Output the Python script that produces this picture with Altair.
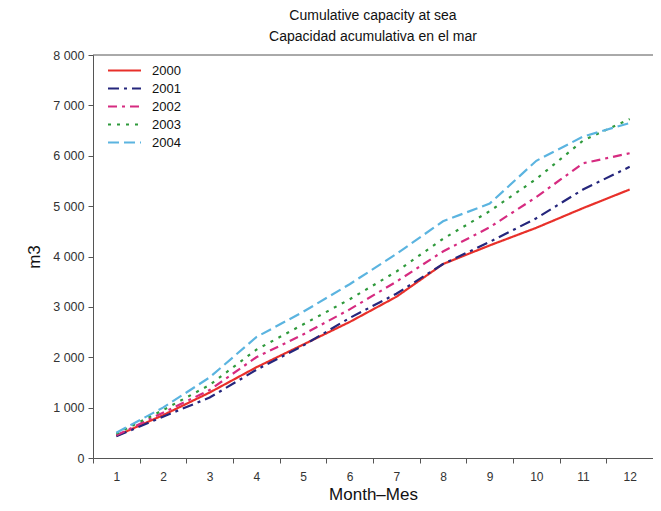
import altair as alt
import pandas as pd

months = list(range(1, 13))
years = ["2000", "2001", "2002", "2003", "2004"]
v2000 = [440, 850, 1300, 1800, 2250, 2700, 3200, 3850, 4220, 4570, 4960, 5330]
v2001 = [430, 820, 1200, 1750, 2230, 2780, 3260, 3850, 4290, 4760, 5330, 5780]
v2002 = [450, 900, 1350, 2000, 2450, 2950, 3500, 4100, 4580, 5180, 5850, 6050]
v2003 = [480, 950, 1450, 2150, 2650, 3150, 3700, 4350, 4900, 5540, 6300, 6730]
v2004 = [500, 1000, 1600, 2400, 2900, 3450, 4050, 4700, 5050, 5900, 6380, 6650]
colors = ["#e8302a", "#25267c", "#d62b80", "#2f9a3c", "#5bb4e0"]
dashes = [[1, 0], [11, 5, 3, 5], [9, 5, 3, 5], [3, 6], [11, 5]]

rows = []
for y, vals in zip(years, [v2000, v2001, v2002, v2003, v2004]):
    for m, v in zip(months, vals):
        rows.append({"Month": m, "Year": y, "Value": v})
df = pd.DataFrame(rows)

xenc = alt.X("Month:O", title="Month\u2013Mes",
             scale=alt.Scale(paddingInner=0, paddingOuter=0),
             axis=alt.Axis(labelAngle=0, tickBand="extent", labelFontSize=12,
                           titleFontSize=17, titleFontWeight="normal",
                           labelColor="#333", titleColor="#111",
                           domainColor="#555", tickColor="#555", tickSize=5,
                           labelPadding=8, titlePadding=4))

lines = alt.Chart(df).mark_line(strokeWidth=2.2).encode(
    x=xenc,
    y=alt.Y("Value:Q", title="m3",
            scale=alt.Scale(domain=[0, 8000], nice=False),
            axis=alt.Axis(values=list(range(0, 8001, 1000)), grid=False,
                          labelExpr="replace(format(datum.value, ','), ',', ' ')",
                          labelFontSize=12.5, titleFontSize=17,
                          titleFontWeight="normal", labelColor="#333",
                          titleColor="#111", domainColor="#555",
                          tickColor="#555", tickSize=5, labelPadding=4,
                          titlePadding=9)),
    color=alt.Color("Year:N", sort=years,
                    scale=alt.Scale(domain=years, range=colors),
                    legend=alt.Legend(title=None, orient="none", legendX=14,
                                      legendY=9, symbolType="M-1,0H5",
                                      symbolSize=121, symbolStrokeWidth=2,
                                      labelFontSize=13, labelOffset=32,
                                      rowPadding=4, labelColor="#111")),
    strokeDash=alt.StrokeDash("Year:N", sort=years,
                              scale=alt.Scale(domain=years, range=dashes),
                              legend=None),
)

top = alt.Chart(pd.DataFrame({"top": [8000]})).mark_rule(
    color="#555", strokeWidth=1).encode(y=alt.Y("top:Q"))

chart = alt.layer(lines, top).properties(
    width=560, height=403,
    title=alt.Title(["Cumulative capacity at sea", "Capacidad acumulativa en el mar"],
                    fontSize=14, fontWeight="normal", anchor="middle",
                    color="#111", offset=5, lineHeight=21),
    autosize=alt.AutoSizeParams(type="none"),
    padding={"left": 85, "top": 47, "right": 0, "bottom": 45},
).configure(font="Liberation Sans").configure_view(stroke=None)

chart.save("out.html", embed_options={"renderer": "svg", "actions": False})
